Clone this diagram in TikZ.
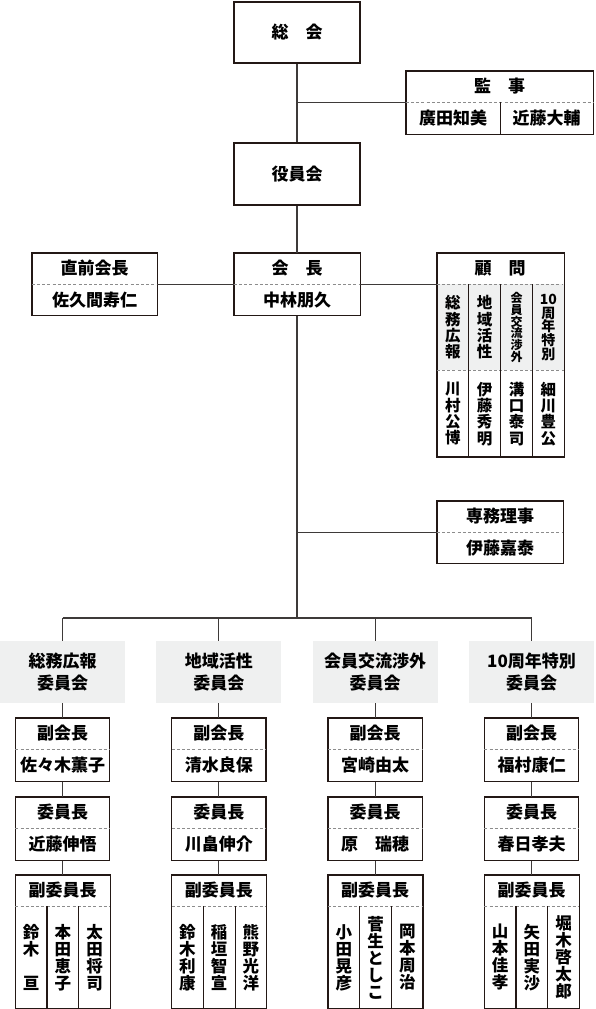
\documentclass[tikz,border=0pt]{standalone}
\usepackage{fontspec}
\newfontfamily\jp{Noto Sans CJK JP}
\usetikzlibrary{positioning}
\definecolor{cInk}{HTML}{231815}
\definecolor{cWire}{HTML}{3E3A39}
\definecolor{cDash}{HTML}{8C8C8C}
\definecolor{cPale}{HTML}{EFF0F0}

\begin{document}
\begin{tikzpicture}[
  x=1pt, y=-1pt,
  font=\jp\bfseries\fontsize{17}{20}\selectfont,
  cell/.style={inner sep=0pt, minimum width=126pt, minimum height=31pt},
  sub/.style={cell, minimum width=94pt},
  boxline/.style={draw=cInk, line width=1.4pt},
  divline/.style={draw=cInk, line width=1.1pt},
  wire/.style={draw=cWire, line width=1.1pt},
  dashline/.style={draw=cDash, line width=0.8pt, dash pattern=on 3pt off 2.2pt},
  vcell/.style={inner sep=0pt, minimum width=31.33pt, minimum height=102pt, align=center,
    font=\jp\bfseries\fontsize{16.5}{17}\selectfont},
  kcell/.style={vcell, minimum width=31.5pt, minimum height=86pt,
    font=\jp\bfseries\fontsize{15.5}{16.4}\selectfont},
  grp/.style={fill=cPale, inner sep=0pt, minimum width=125pt, minimum height=62pt, align=center,
    font=\jp\bfseries\fontsize{17}{22}\selectfont}
]
\useasboundingbox (0,0) rectangle (595,1009);
% top of the tree
\node[cell, boxline, minimum height=61pt] (sokai) at (297,32.5) {総　会};
\node[cell, minimum width=187pt] (kansa) at (499.5,86.5) {監　事};
\node[sub, minimum height=32pt] (kansa1) at (453,118) {廣田知美};
\node[sub, minimum width=93pt, minimum height=32pt] (kansa2) at (546.5,118) {近藤大輔};
\draw[boxline] (kansa.north west) rectangle (kansa2.south east);
\draw[dashline] (kansa.south west) -- (kansa.south east);
\draw[divline] (kansa1.north east) -- (kansa1.south east);
\node[cell, boxline, minimum height=62pt] (yakuin) at (297,174) {役員会};
\node[cell] (kaicho) at (297,268.5) {会　長};
\node[cell, below=0pt of kaicho] (kaichoN) {中林朋久};
\draw[boxline] (kaicho.north west) rectangle (kaichoN.south east);
\draw[dashline] (kaicho.south west) -- (kaicho.south east);
\node[cell, minimum width=125pt] (zenkai) at (94.5,268.5) {直前会長};
\node[cell, minimum width=125pt, below=0pt of zenkai] (zenkaiN) {佐久間寿仁};
\draw[boxline] (zenkai.north west) rectangle (zenkaiN.south east);
\draw[dashline] (zenkai.south west) -- (zenkai.south east);
% advisers
\node[cell] (komon) at (500,268.5) {顧　問};
\node[kcell, fill=cPale, anchor=north west] (ka) at (komon.south west) {総\\務\\広\\報};
\node[kcell, fill=cPale, right=0pt of ka] (kb) {地\\域\\活\\性};
\node[kcell, fill=cPale, right=0pt of kb, font=\jp\bfseries\fontsize{12}{11.8}\selectfont] (kc) {会\\員\\交\\流\\渉\\外};
\node[kcell, fill=cPale, right=0pt of kc, font=\jp\bfseries\fontsize{14}{13.6}\selectfont] (kd) {10\\周\\年\\特\\別};
\node[kcell, below=0pt of ka] (kan) {川\\村\\公\\博};
\node[kcell, below=0pt of kb] (kbn) {伊\\藤\\秀\\明};
\node[kcell, below=0pt of kc] (kcn) {溝\\口\\泰\\司};
\node[kcell, below=0pt of kd] (kdn) {細\\川\\豊\\公};
\draw[boxline] (komon.north west) rectangle (kdn.south east);
\draw[dashline] (komon.south west) -- (komon.south east); \draw[dashline] (ka.south west) -- (kd.south east);
\draw[divline] (ka.north east) -- (kan.south east); \draw[divline] (kb.north east) -- (kbn.south east);
\draw[divline] (kc.north east) -- (kcn.south east);
\node[cell] (senmu) at (500,516.5) {専務理事};
\node[cell, below=0pt of senmu] (senmuN) {伊藤嘉泰};
\draw[boxline] (senmu.north west) rectangle (senmuN.south east);
\draw[dashline] (senmu.south west) -- (senmu.south east);
% trunk
\coordinate (bus) at (297,618);
\draw[wire] (sokai) -- (yakuin); \draw[wire] (yakuin) -- (kaicho);
\draw[wire] (kansa.south west) -- (sokai.south |- kansa.south west);
\draw[wire] (zenkai.south east) -- (kaicho.south west);
\draw[wire] (kaicho.south east) -- (komon.south west);
\draw[wire] (kaichoN.south) -- (bus);
\draw[wire] (senmu.south west) -- (senmu.south west -| bus);
% committees
\node[grp] (g1) at (62.5,672) {総務広報\\委員会};
\node[grp] (g2) at (218.8,672) {地域活性\\委員会};
\node[grp] (g3) at (375.2,672) {会員交流渉外\\委員会};
\node[grp] (g4) at (531.5,672) {10周年特別\\委員会};
\draw[wire] (g1.north |- bus) -- (g4.north |- bus);
\draw[wire] (g1.north |- bus) -- (g1.north); \draw[wire] (g2.north |- bus) -- (g2.north);
\draw[wire] (g3.north |- bus) -- (g3.north); \draw[wire] (g4.north |- bus) -- (g4.north);
% vice presidents
\node[sub] (v1) at (62.5,733.5) {副会長}; \node[sub, below=0pt of v1, minimum height=32pt] (v1n) {佐々木薫子};
\node[sub] (v2) at (218.8,733.5) {副会長}; \node[sub, below=0pt of v2, minimum height=32pt] (v2n) {清水良保};
\node[sub] (v3) at (375.2,733.5) {副会長}; \node[sub, below=0pt of v3, minimum height=32pt] (v3n) {宮崎由太};
\node[sub] (v4) at (531.5,733.5) {副会長}; \node[sub, below=0pt of v4, minimum height=32pt] (v4n) {福村康仁};
% chairs
\node[sub] (c1) at (62.5,812.5) {委員長}; \node[sub, below=0pt of c1, minimum height=32pt] (c1n) {近藤伸悟};
\node[sub] (c2) at (218.8,812.5) {委員長}; \node[sub, below=0pt of c2, minimum height=32pt] (c2n) {川畠伸介};
\node[sub] (c3) at (375.2,812.5) {委員長}; \node[sub, below=0pt of c3, minimum height=32pt] (c3n) {原　瑞穂};
\node[sub] (c4) at (531.5,812.5) {委員長}; \node[sub, below=0pt of c4, minimum height=32pt] (c4n) {春日孝夫};
% vice chairs
\node[sub] (d1) at (62.5,890.5) {副委員長};
\node[vcell, anchor=north west] (d1a) at (d1.south west) {鈴\\木\\[17pt]亘};
\node[vcell, right=0pt of d1a] (d1b) {本\\田\\恵\\子};
\node[vcell, right=0pt of d1b] (d1c) {太\\田\\将\\司};
\node[sub] (d2) at (218.8,890.5) {副委員長};
\node[vcell, anchor=north west] (d2a) at (d2.south west) {鈴\\木\\利\\康};
\node[vcell, right=0pt of d2a] (d2b) {稲\\垣\\智\\宣};
\node[vcell, right=0pt of d2b] (d2c) {熊\\野\\光\\洋};
\node[sub] (d3) at (375.2,890.5) {副委員長};
\node[vcell, anchor=north west] (d3a) at (d3.south west) {小\\田\\晃\\彦};
\node[vcell, right=0pt of d3a] (d3b) {菅\\生\\と\\し\\こ};
\node[vcell, right=0pt of d3b] (d3c) {岡\\本\\周\\治};
\node[sub] (d4) at (531.5,890.5) {副委員長};
\node[vcell, anchor=north west] (d4a) at (d4.south west) {山\\本\\佳\\孝};
\node[vcell, right=0pt of d4a] (d4b) {矢\\田\\実\\沙};
\node[vcell, right=0pt of d4b] (d4c) {堀\\木\\啓\\太\\郎};
\foreach \i in {1,2,3,4} {
  \draw[boxline] (v\i.north west) rectangle (v\i n.south east);
  \draw[dashline] (v\i.south west) -- (v\i.south east);
  \draw[boxline] (c\i.north west) rectangle (c\i n.south east);
  \draw[dashline] (c\i.south west) -- (c\i.south east);
  \draw[boxline] (d\i.north west) rectangle (d\i c.south east);
  \draw[dashline] (d\i.south west) -- (d\i.south east);
  \draw[divline] (d\i a.north east) -- (d\i a.south east);
  \draw[divline] (d\i b.north east) -- (d\i b.south east);
  \draw[wire] (g\i.south) -- (v\i.north); \draw[wire] (v\i n.south) -- (c\i.north);
  \draw[wire] (c\i n.south) -- (d\i.north);
}
\end{tikzpicture}
\end{document}
